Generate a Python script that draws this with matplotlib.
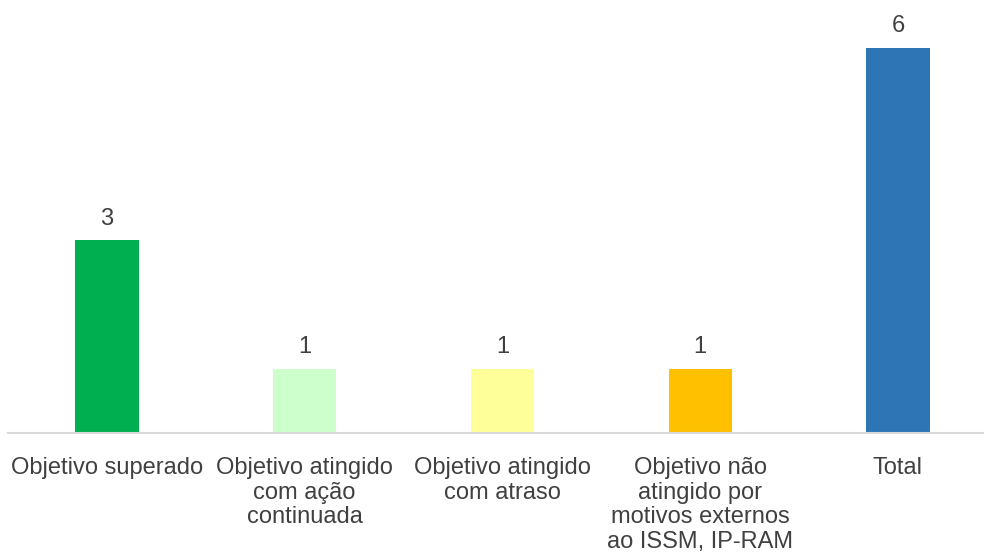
import matplotlib.pyplot as plt

categorias = ["Objetivo superado", "Objetivo atingido\ncom ação\ncontinuada",
              "Objetivo atingido\ncom atraso",
              "Objetivo não\natingido por\nmotivos externos\nao ISSM, IP-RAM",
              "Total"]
valores = [3, 1, 1, 1, 6]
cores = ["#00B050", "#CCFFCC", "#FFFF99", "#FFC000", "#2E75B6"]

plt.rcParams['font.family'] = ['Liberation Sans', 'DejaVu Sans']
txt = "#404040"

fig = plt.figure(figsize=(9.84, 5.56), dpi=100)
ax = fig.add_axes([8 / 984, 123 / 556, 988.8 / 984, 433 / 556])

x = range(len(valores))
bars = ax.bar(x, valores, width=0.32, color=cores)
for b, v in zip(bars, valores):
    ax.annotate(str(v), (b.get_x() + b.get_width() / 2, v), xytext=(0, 7.5),
                textcoords="offset points", ha="center", va="bottom",
                fontsize=17, color=txt)

ax.set_xlim(-0.5, 4.5)
ax.set_ylim(0, 6.74)
ax.set_xticks(list(x))
ax.set_xticklabels(categorias, fontsize=17, color=txt, linespacing=1.17)
ax.tick_params(axis="x", length=0, pad=17)
ax.set_yticks([])
for s in ["top", "right", "left"]:
    ax.spines[s].set_visible(False)
ax.spines["bottom"].set_color("#D9D9D9")
ax.spines["bottom"].set_linewidth(1.5)

plt.savefig("out.png", dpi=100)
